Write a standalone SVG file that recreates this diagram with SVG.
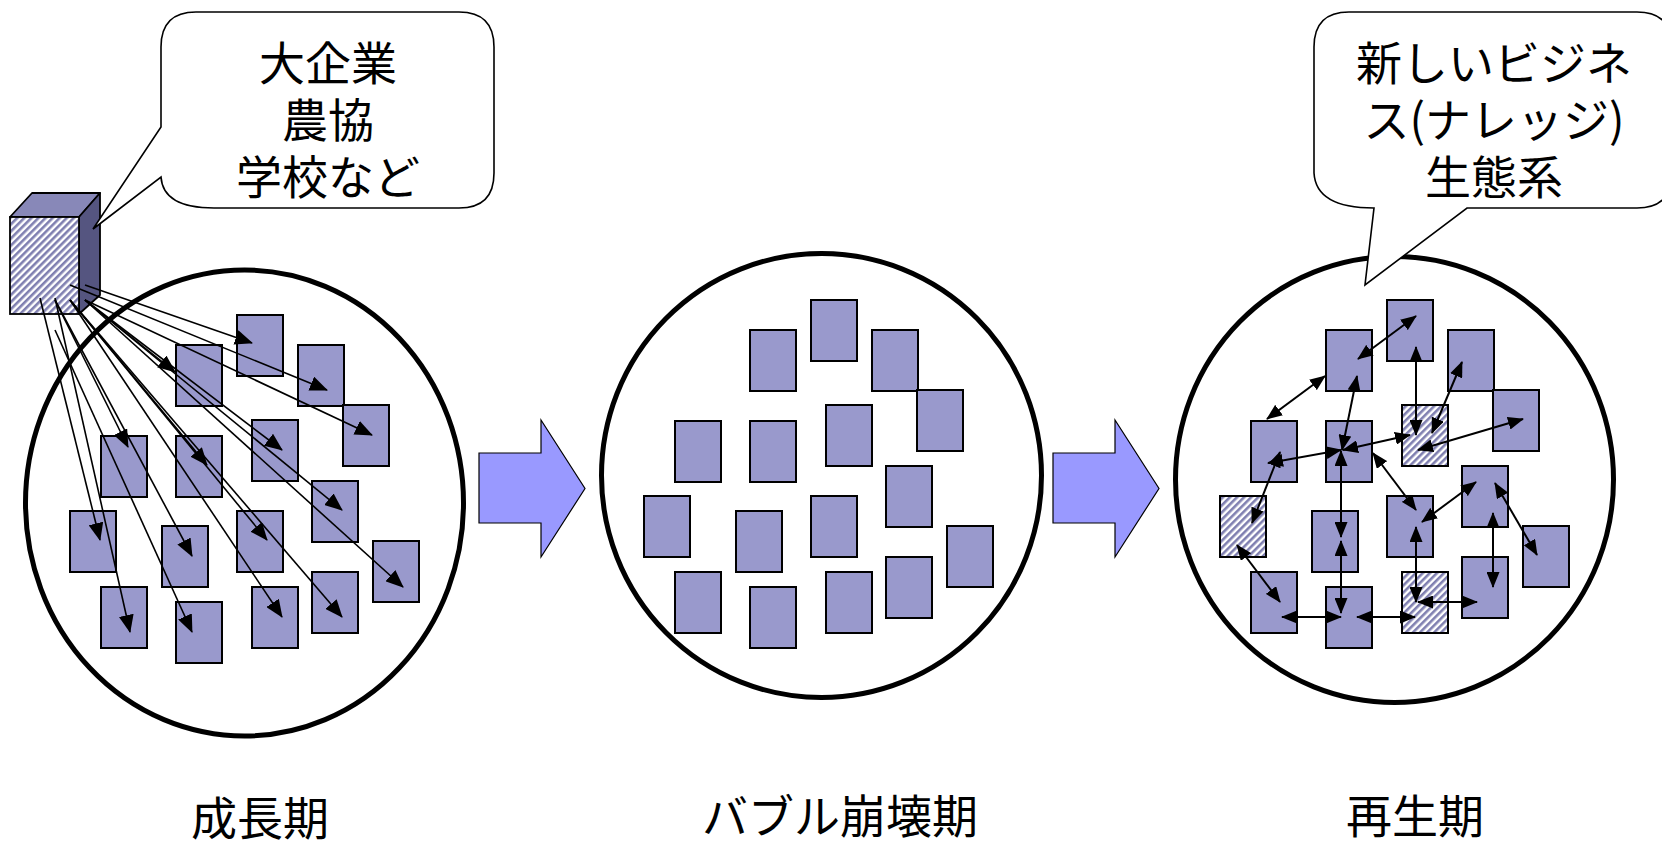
<svg xmlns="http://www.w3.org/2000/svg" width="1662" height="848" viewBox="0 0 1662 848">
<defs>
<pattern id="hatch" patternUnits="userSpaceOnUse" width="5" height="5" patternTransform="rotate(45)">
<rect x="0" y="0" width="5" height="5" fill="#ffffff"/>
<rect x="0" y="0" width="2.6" height="5" fill="#7f7fb0"/>
</pattern>
<marker id="ahL" markerUnits="userSpaceOnUse" markerWidth="18" markerHeight="15" viewBox="0 0 18 15" refX="17" refY="7.5" orient="auto">
<path d="M0,0 L18,7.5 L0,15 Z" fill="#000"/>
</marker>
<marker id="ahR" markerUnits="userSpaceOnUse" markerWidth="16" markerHeight="13" viewBox="0 0 16 13" refX="15" refY="6.5" orient="auto-start-reverse">
<path d="M0,0 L16,6.5 L0,13 Z" fill="#000"/>
</marker>
<style>
.r{fill:#9999cc;stroke:#000;stroke-width:2}
.h{fill:url(#hatch);stroke:#000;stroke-width:2}
.c{fill:#fff;stroke:#000;stroke-width:5}
.bub{fill:#fff;stroke:#000;stroke-width:1.6;stroke-linejoin:miter}
.ba{fill:#9999ff;stroke:#000;stroke-width:1.2}
.a1{stroke:#000;stroke-width:1.6;fill:none;marker-end:url(#ahL)}
.a2{stroke:#000;stroke-width:2;fill:none;marker-start:url(#ahR);marker-end:url(#ahR)}
.t{font-family:"Noto Sans CJK JP","Noto Sans CJK SC",sans-serif;font-size:46px;text-anchor:middle;fill:#000}
</style>
</defs>
<rect x="0" y="0" width="1662" height="848" fill="#fff"/>

<!-- circles -->
<g id="circle-growth"><ellipse class="c" cx="244.5" cy="503" rx="219" ry="233"/></g>
<g id="circle-bubble"><ellipse class="c" cx="821.5" cy="475.5" rx="220" ry="222"/></g>
<g id="circle-rebirth"><ellipse class="c" cx="1394.5" cy="479.5" rx="219" ry="223"/></g>

<!-- block arrows -->
<g id="arrow-1"><path class="ba" d="M479,453 H541 V420 L585,488.5 L541,557 V523 H479 Z"/></g>
<g id="arrow-2"><path class="ba" d="M1053,453 H1115 V420 L1159,488.5 L1115,557 V523 H1053 Z"/></g>

<!-- growth period nodes -->
<g id="L1"><rect class="r" x="237" y="315" width="46" height="61"/></g>
<g id="L2"><rect class="r" x="176" y="345" width="46" height="61"/></g>
<g id="L3"><rect class="r" x="298" y="345" width="46" height="61"/></g>
<g id="L4"><rect class="r" x="343" y="405" width="46" height="61"/></g>
<g id="L5"><rect class="r" x="101" y="436" width="46" height="61"/></g>
<g id="L6"><rect class="r" x="176" y="436" width="46" height="61"/></g>
<g id="L7"><rect class="r" x="252" y="420" width="46" height="61"/></g>
<g id="L8"><rect class="r" x="312" y="481" width="46" height="61"/></g>
<g id="L9"><rect class="r" x="70" y="511" width="46" height="61"/></g>
<g id="L10"><rect class="r" x="162" y="526" width="46" height="61"/></g>
<g id="L11"><rect class="r" x="237" y="511" width="46" height="61"/></g>
<g id="L12"><rect class="r" x="373" y="541" width="46" height="61"/></g>
<g id="L13"><rect class="r" x="312" y="572" width="46" height="61"/></g>
<g id="L14"><rect class="r" x="101" y="587" width="46" height="61"/></g>
<g id="L15"><rect class="r" x="176" y="602" width="46" height="61"/></g>
<g id="L16"><rect class="r" x="252" y="587" width="46" height="61"/></g>

<!-- bubble collapse nodes -->
<g id="M1"><rect class="r" x="811" y="300" width="46" height="61"/></g>
<g id="M2"><rect class="r" x="750" y="330" width="46" height="61"/></g>
<g id="M3"><rect class="r" x="872" y="330" width="46" height="61"/></g>
<g id="M4"><rect class="r" x="917" y="390" width="46" height="61"/></g>
<g id="M5"><rect class="r" x="675" y="421" width="46" height="61"/></g>
<g id="M6"><rect class="r" x="750" y="421" width="46" height="61"/></g>
<g id="M7"><rect class="r" x="826" y="405" width="46" height="61"/></g>
<g id="M8"><rect class="r" x="886" y="466" width="46" height="61"/></g>
<g id="M9"><rect class="r" x="644" y="496" width="46" height="61"/></g>
<g id="M10"><rect class="r" x="736" y="511" width="46" height="61"/></g>
<g id="M11"><rect class="r" x="811" y="496" width="46" height="61"/></g>
<g id="M12"><rect class="r" x="947" y="526" width="46" height="61"/></g>
<g id="M13"><rect class="r" x="886" y="557" width="46" height="61"/></g>
<g id="M14"><rect class="r" x="675" y="572" width="46" height="61"/></g>
<g id="M15"><rect class="r" x="750" y="587" width="46" height="61"/></g>
<g id="M16"><rect class="r" x="826" y="572" width="46" height="61"/></g>

<!-- rebirth nodes -->
<g id="R1"><rect class="r" x="1387" y="300" width="46" height="61"/></g>
<g id="R2"><rect class="r" x="1326" y="330" width="46" height="61"/></g>
<g id="R3"><rect class="r" x="1448" y="330" width="46" height="61"/></g>
<g id="R4"><rect class="r" x="1493" y="390" width="46" height="61"/></g>
<g id="R5"><rect class="r" x="1251" y="421" width="46" height="61"/></g>
<g id="R6"><rect class="r" x="1326" y="421" width="46" height="61"/></g>
<g id="R7"><rect class="h" x="1402" y="405" width="46" height="61"/></g>
<g id="R8"><rect class="r" x="1462" y="466" width="46" height="61"/></g>
<g id="R9"><rect class="h" x="1220" y="496" width="46" height="61"/></g>
<g id="R10"><rect class="r" x="1312" y="511" width="46" height="61"/></g>
<g id="R11"><rect class="r" x="1387" y="496" width="46" height="61"/></g>
<g id="R12"><rect class="r" x="1523" y="526" width="46" height="61"/></g>
<g id="R13"><rect class="r" x="1462" y="557" width="46" height="61"/></g>
<g id="R14"><rect class="r" x="1251" y="572" width="46" height="61"/></g>
<g id="R15"><rect class="r" x="1326" y="587" width="46" height="61"/></g>
<g id="R16"><rect class="h" x="1402" y="572" width="46" height="61"/></g>

<!-- organisation box -->
<g id="org-box">
<path d="M10,217 L32,193 L100,193 L79,217 Z" fill="#8888b8" stroke="#000" stroke-width="1.8" stroke-linejoin="round"/>
<path d="M79,217 L100,193 L100,295 L79,314 Z" fill="#555580" stroke="#000" stroke-width="1.8" stroke-linejoin="round"/>
<rect x="10" y="217" width="69" height="97" fill="url(#hatch)" stroke="#000" stroke-width="1.8"/>
</g>

<!-- connectors -->
<g id="connectors">
<line class="a1" x1="85" y1="285" x2="252" y2="343"/>
<line class="a1" x1="85" y1="300" x2="175" y2="372"/>
<line class="a1" x1="70" y1="285" x2="327" y2="390"/>
<line class="a1" x1="85" y1="300" x2="372" y2="435"/>
<line class="a1" x1="55" y1="300" x2="128" y2="447"/>
<line class="a1" x1="70" y1="300" x2="207" y2="465"/>
<line class="a1" x1="85" y1="300" x2="282" y2="450"/>
<line class="a1" x1="85" y1="300" x2="342" y2="510"/>
<line class="a1" x1="40" y1="298" x2="100" y2="540"/>
<line class="a1" x1="55" y1="300" x2="192" y2="556"/>
<line class="a1" x1="70" y1="300" x2="267" y2="540"/>
<line class="a1" x1="85" y1="300" x2="403" y2="587"/>
<line class="a1" x1="70" y1="300" x2="342" y2="617"/>
<line class="a1" x1="55" y1="298" x2="130" y2="632"/>
<line class="a1" x1="55" y1="330" x2="192" y2="632"/>
<line class="a1" x1="70" y1="300" x2="282" y2="617"/>

<line class="a2" x1="1358" y1="359" x2="1416" y2="316"/>
<line class="a2" x1="1267" y1="419" x2="1325" y2="376"/>
<line class="a2" x1="1342" y1="450" x2="1357" y2="376"/>
<line class="a2" x1="1416" y1="347" x2="1416" y2="435"/>
<line class="a2" x1="1462" y1="362" x2="1432" y2="433"/>
<line class="a2" x1="1418" y1="450" x2="1523" y2="419"/>
<line class="a2" x1="1410" y1="435" x2="1343" y2="450"/>
<line class="a2" x1="1268" y1="463" x2="1341" y2="450"/>
<line class="a2" x1="1373" y1="453" x2="1416" y2="510"/>
<line class="a2" x1="1280" y1="452" x2="1252" y2="523"/>
<line class="a2" x1="1341" y1="451" x2="1341" y2="537"/>
<line class="a2" x1="1341" y1="541" x2="1341" y2="613"/>
<line class="a2" x1="1237" y1="545" x2="1280" y2="602"/>
<line class="a2" x1="1282" y1="617" x2="1341" y2="617"/>
<line class="a2" x1="1357" y1="617" x2="1415" y2="617"/>
<line class="a2" x1="1416" y1="527" x2="1416" y2="602"/>
<line class="a2" x1="1418" y1="602" x2="1477" y2="602"/>
<line class="a2" x1="1422" y1="522" x2="1476" y2="482"/>
<line class="a2" x1="1493" y1="513" x2="1493" y2="587"/>
<line class="a2" x1="1495" y1="483" x2="1537" y2="555"/>
</g>

<!-- callouts -->
<g id="callout-left">
<path class="bub" d="M161,47 Q161,12 196,12 H459 Q494,12 494,47 V173 Q494,208 459,208 H214 Q163,208 161,177 L93,229 L161,127 Z"/>
<text class="t"><tspan x="328" y="80">大企業</tspan><tspan x="328" y="137">農協</tspan><tspan x="328" y="194">学校など</tspan></text>
</g>
<g id="callout-right">
<path class="bub" d="M1314,47 Q1314,12 1349,12 H1637 Q1672,12 1672,47 V173 Q1672,208 1637,208 H1467 L1365,285 L1374,208 Q1316,208 1314,173 Z"/>
<text class="t"><tspan x="1494" y="80">新しいビジネ</tspan><tspan x="1494" y="137">ス(ナレッジ)</tspan><tspan x="1494" y="194">生態系</tspan></text>
</g>

<!-- period labels -->
<g id="label-growth"><text class="t" x="260" y="834.5">成長期</text></g>
<g id="label-collapse"><text class="t" x="840" y="833">バブル崩壊期</text></g>
<g id="label-rebirth"><text class="t" x="1415" y="833">再生期</text></g>
</svg>
